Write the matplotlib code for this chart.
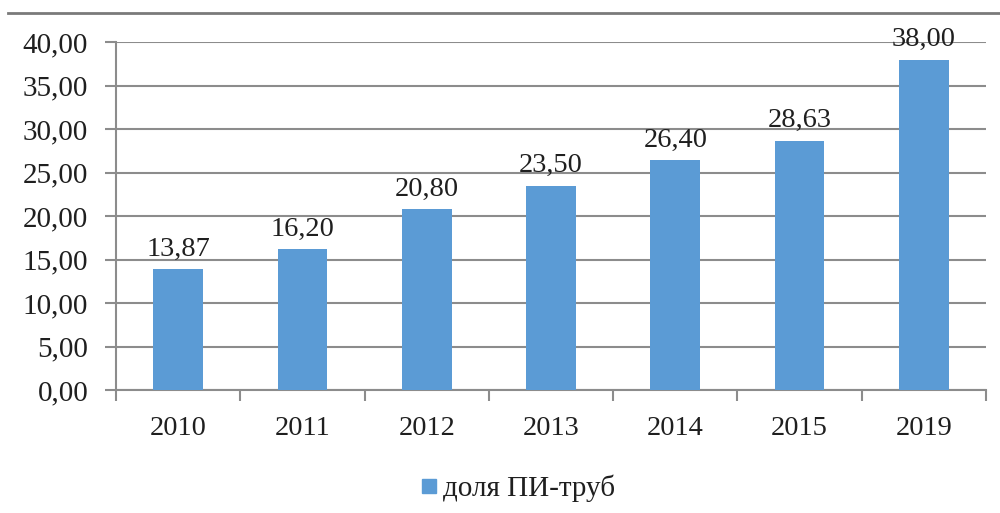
import matplotlib
matplotlib.use("Agg")
import matplotlib.pyplot as plt
from matplotlib.lines import Line2D
from matplotlib.ticker import FuncFormatter, FixedLocator

categories = ["2010", "2011", "2012", "2013", "2014", "2015", "2019"]
values = [13.87, 16.20, 20.80, 23.50, 26.40, 28.63, 38.00]
series_name = "доля ПИ-труб"

plt.rcParams['font.family'] = ['Liberation Serif', 'DejaVu Serif']
BLUE = "#5B9BD5"
GRID = "#8c8c8c"
TXT = "#1f1f1f"

fig = plt.figure(figsize=(10, 5.13), dpi=100)
ax = fig.add_axes([0.116, 0.2398, 0.870, 0.678])

x = list(range(len(categories)))
bars = ax.bar(x, values, width=0.4, color=BLUE, zorder=3)

def fmt(v):
    return f"{v:.2f}".replace(".", ",")

for xi, v in zip(x, values):
    ax.annotate(fmt(v), (xi, v), xytext=(0, 5.5), textcoords="offset points",
                ha="center", va="bottom", fontsize=20.5, color=TXT)

ax.set_xlim(-0.5, len(categories) - 0.5)
ax.set_ylim(0, 40)
ax.set_yticks([0, 5, 10, 15, 20, 25, 30, 35, 40])
ax.yaxis.set_major_formatter(FuncFormatter(lambda v, p: fmt(v)))
ax.yaxis.grid(True, color=GRID, linewidth=1.5, zorder=0)
ax.set_axisbelow(True)

ax.set_xticks(x)
ax.set_xticklabels(categories)
ax.xaxis.set_minor_locator(FixedLocator([i - 0.5 for i in range(len(categories) + 1)]))
ax.tick_params(axis="x", which="major", length=0, pad=19, labelsize=20.5, labelcolor=TXT)
ax.tick_params(axis="x", which="minor", length=8, width=1.5, color=GRID, direction="out")
ax.tick_params(axis="y", which="major", length=8, width=1.5, color=GRID, pad=12,
               labelsize=21, labelcolor=TXT)

for s in ["top", "right"]:
    ax.spines[s].set_visible(False)
for s in ["left", "bottom"]:
    ax.spines[s].set_color(GRID)
    ax.spines[s].set_linewidth(1.5)

handle = Line2D([], [], marker="s", linestyle="none", markersize=10.5,
                markerfacecolor=BLUE, markeredgecolor=BLUE)
fig.legend([handle], [series_name], loc="center", bbox_to_anchor=(0.517, 1 - 488 / 513),
           frameon=False, fontsize=21, handletextpad=0.1, handlelength=0.7,
           labelcolor=TXT)

fig.add_artist(Line2D([0.008, 1.0], [1 - 13 / 513, 1 - 13 / 513], color="#7a7a7a",
                      linewidth=2, transform=fig.transFigure))

fig.savefig("out.png", dpi=100)
